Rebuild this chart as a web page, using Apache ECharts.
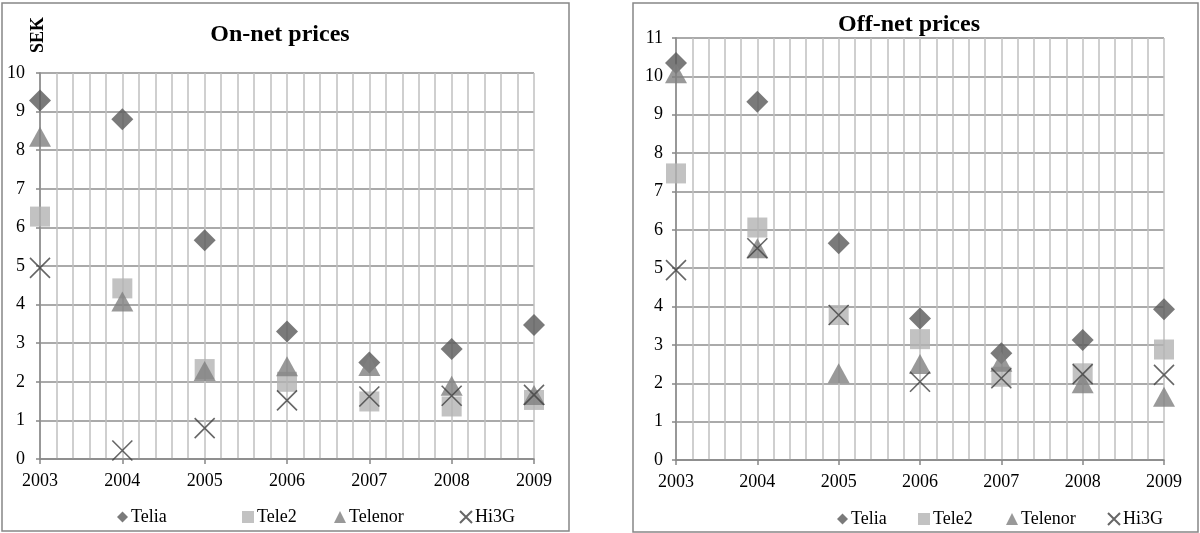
<!DOCTYPE html>
<html>
<head>
<meta charset="utf-8">
<script src="https://cdn.jsdelivr.net/npm/echarts@6/dist/echarts.min.js"></script>
<style>
  html, body { margin: 0; padding: 0; background: #fff; }
  #chart { width: 1200px; height: 533px; }
</style>
</head>
<body>
<div id="chart"></div>
<script>
// years on the x axis
let years = [2003, 2004, 2005, 2006, 2007, 2008, 2009];
let operators = ['Telia', 'Tele2', 'Telenor', 'Hi3G'];

// On-net prices (SEK)
let onTelia   = [9.29, 8.80, 5.67, 3.30, 2.50, 2.85, 3.47];
let onTele2   = [6.28, 4.42, 2.33, 2.00, 1.49, 1.36, 1.53];
let onTelenor = [8.35, 4.08, 2.28, 2.40, 2.41, 1.90, 1.66];
let onHi3G    = [4.95, 0.22, 0.80, 1.52, 1.62, 1.64, 1.66];

// Off-net prices (SEK)
let offTelia   = [10.35, 9.34, 5.65, 3.69, 2.78, 3.13, 3.93];
let offTele2   = [7.47, 6.06, 3.78, 3.15, 2.17, 2.26, 2.88];
let offTelenor = [10.08, 5.52, 2.26, 2.50, 2.56, 2.00, 1.65];
let offHi3G    = [4.95, 5.52, 3.78, 2.04, 2.13, 2.24, 2.22];

let font = '"Liberation Serif", "Times New Roman", serif';
let styles = {
    Telia:   {symbol: 'diamond', size: [22, 22], color: '#595959'},
    Tele2:   {symbol: 'rect', size: [20, 20], color: '#b3b3b3'},
    Telenor: {symbol: 'triangle', size: [22, 20], color: '#808080'},
    Hi3G:    {symbol: 'path://M0,0L10,10M10,0L0,10', size: [20, 20], color: '#404040'}
};

function pairs(vals){
    return years.map((y, i) => [y, vals[i]]);
}

function makeSeries(name, vals, idx){
    let s = styles[name];
    let item = {color: s.color};
    if(name == 'Hi3G'){
        item = {color: s.color, borderColor: s.color, borderWidth: 1.6};
    }
    return {
        name: name,
        type: 'scatter',
        xAxisIndex: idx,
        yAxisIndex: idx,
        symbol: s.symbol,
        symbolSize: s.size,
        symbolKeepAspect: true,
        itemStyle: item,
        emphasis: {disabled: true},
        data: pairs(vals)
    };
}

function xAxis(idx){
    return {
        type: 'value',
        gridIndex: idx,
        min: 2003,
        max: 2009,
        interval: 1,
        axisLine: {lineStyle: {color: '#868686', width: 1.5}},
        axisTick: {show: true, length: 5, lineStyle: {color: '#868686', width: 1.5}},
        axisLabel: {
            color: '#000',
            fontFamily: font,
            fontSize: 18,
            margin: 13,
            formatter: (v) => String(v)
        },
        splitLine: {show: true, lineStyle: {color: '#c0c0c0', width: 1.5}},
        minorTick: {show: false, splitNumber: 5},
        minorSplitLine: {show: true, lineStyle: {color: '#c0c0c0', width: 1.5}}
    };
}

function yAxis(idx, max){
    return {
        type: 'value',
        gridIndex: idx,
        min: 0,
        max: max,
        interval: 1,
        axisLine: {show: true, lineStyle: {color: '#868686', width: 1.5}},
        axisTick: {show: true, length: 4, lineStyle: {color: '#868686', width: 1.5}},
        axisLabel: {color: '#000', fontFamily: font, fontSize: 18, margin: idx == 0 ? 15 : 13},
        splitLine: {show: true, lineStyle: {color: '#8e8e8e', width: 1.5}}
    };
}

// one legend per item so the spacing follows the original
let legendPos = [
    [112, 237, 329, 454],
    [832, 913, 1001, 1102]
];
let legendTop = [503, 505];
let legends = [];
legendPos.forEach((row, g) => {
    row.forEach((x, i) => {
        legends.push({
            data: [operators[i]],
            left: x,
            top: legendTop[g],
            itemWidth: operators[i] == 'Telia' ? 11 : 12,
            itemHeight: operators[i] == 'Telia' ? 11 : 12,
            itemGap: 0,
            selectedMode: false,
            textStyle: {color: '#000', fontFamily: font, fontSize: 18, padding: [0, 0, 0, -2]}
        });
    });
});

let chart = echarts.init(document.getElementById('chart'));
chart.setOption({
    animation: false,
    backgroundColor: '#fff',
    title: [
        {
            text: 'On-net prices',
            left: 275,
            top: 18,
            textAlign: 'center',
            textStyle: {fontFamily: font, fontSize: 24, fontWeight: 'bold', color: '#000'}
        },
        {
            text: 'Off-net prices',
            left: 904,
            top: 8,
            textAlign: 'center',
            textStyle: {fontFamily: font, fontSize: 24, fontWeight: 'bold', color: '#000'}
        }
    ],
    legend: legends,
    grid: [
        {left: 40, top: 73, width: 494, height: 386},
        {left: 676, top: 38, width: 488, height: 422}
    ],
    xAxis: [xAxis(0), xAxis(1)],
    yAxis: [yAxis(0, 10), yAxis(1, 11)],
    graphic: [
        {type: 'rect', shape: {x: 2, y: 3, width: 567, height: 528}, style: {fill: 'none', stroke: '#878787', lineWidth: 1.5}, silent: true},
        {type: 'rect', shape: {x: 633, y: 3, width: 565, height: 529}, style: {fill: 'none', stroke: '#878787', lineWidth: 1.5}, silent: true},
        {
            type: 'text',
            x: 38,
            y: 35,
            rotation: Math.PI / 2,
            style: {text: 'SEK', fontFamily: font, fontSize: 18, fontWeight: 'bold', fill: '#000', align: 'center', verticalAlign: 'middle'},
            silent: true
        }
    ],
    series: [
        makeSeries('Telia', onTelia, 0),
        makeSeries('Tele2', onTele2, 0),
        makeSeries('Telenor', onTelenor, 0),
        makeSeries('Hi3G', onHi3G, 0),
        makeSeries('Telia', offTelia, 1),
        makeSeries('Tele2', offTele2, 1),
        makeSeries('Telenor', offTelenor, 1),
        makeSeries('Hi3G', offHi3G, 1)
    ]
});
</script>
</body>
</html>
